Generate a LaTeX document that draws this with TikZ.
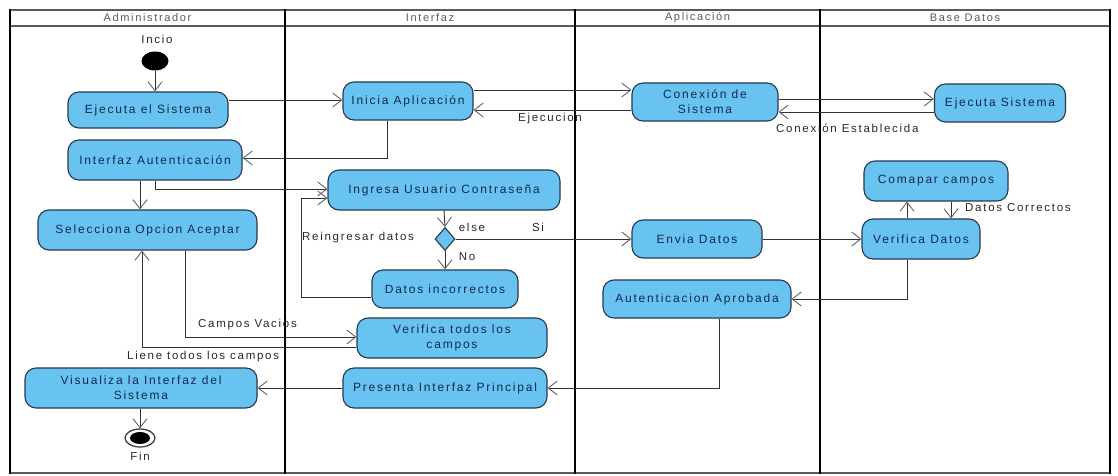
\documentclass[tikz,border=0pt]{standalone}
\usepackage{fontspec}
\setmainfont{Liberation Sans}[LetterSpace=15]
\usetikzlibrary{arrows.meta,shapes.geometric}

\definecolor{actfill}{RGB}{104,195,240}
\definecolor{actdraw}{RGB}{38,56,80}
\definecolor{acttext}{RGB}{18,40,82}
\definecolor{linecol}{RGB}{50,50,50}
\definecolor{tipcol}{RGB}{100,100,100}
\definecolor{lanegray}{RGB}{90,90,90}
\definecolor{labelcol}{RGB}{40,40,40}

\tikzset{
  act/.style={draw=actdraw, line width=1.1pt, fill=actfill, rounded corners=11pt,
    text=acttext, align=center, inner sep=2pt,
    font=\fontsize{12}{15}\selectfont},
  lanehead/.style={text=lanegray, font=\fontsize{11}{13}\selectfont, inner sep=0pt},
  lbl/.style={text=labelcol, font=\fontsize{11.5}{13}\selectfont, inner sep=0pt},
  flow/.style={draw=linecol, line width=0.9pt,
    -{Straight Barb[length=9pt,width=14pt,line width=0.9pt,color=tipcol]}},
}

\begin{document}
\begin{tikzpicture}[x=1pt,y=-1pt]
\useasboundingbox (0,0) rectangle (1118,476);
\fill[white] (0,0) rectangle (1118,476);

% swimlane frame
\draw[lanegray, line width=1.8pt] (10,10) -- (1110,10);
\draw[lanegray, line width=1.8pt] (10,26) -- (1110,26);
\draw[lanegray, line width=1.5pt] (10,473) -- (1110,473);
\foreach \x in {10,285,575,820} \draw[black, line width=2.6pt] (\x,9) -- (\x,474);
\draw[black, line width=2pt] (1110,9) -- (1110,474);

% lane titles
\node[lanehead] (hAdm) at (147.5,18) {Administrador};
\node[lanehead] (hInt) at (430,18) {Interfaz};
\node[lanehead] (hApl) at (697.5,18) {Aplicación};
\node[lanehead] (hBD)  at (965,18) {Base Datos};

% start and end
\node[lbl] (tIni) at (157,39) {Incio};
\node[ellipse, fill=black, minimum width=27pt, minimum height=19pt, inner sep=0pt] (init) at (155,61) {};
\node[ellipse, draw=linecol, line width=1.2pt, fill=white, minimum width=30pt, minimum height=18pt, inner sep=0pt] (fin) at (140,438) {};
\node[ellipse, fill=black, minimum width=20pt, minimum height=12pt, inner sep=0pt] (finDot) at (fin) {};
\node[lbl] (tFin) at (140,456) {Fin};

% Administrador
\node[act, minimum width=160pt, minimum height=36pt] (ejec)  at (148,110) {Ejecuta el Sistema};
\node[act, minimum width=174pt, minimum height=40pt] (iauth) at (155,160) {Interfaz Autenticación};
\node[act, minimum width=219pt, minimum height=40pt] (selec) at (147.5,230) {Selecciona Opcion Aceptar};
\node[act, minimum width=232pt, minimum height=40pt] (visu)  at (141,388) {Visualiza la Interfaz del\\Sistema};

% Interfaz
\node[act, minimum width=130pt, minimum height=38pt] (inicia)   at (408,101) {Inicia Aplicación};
\node[act, minimum width=232pt, minimum height=40pt] (ingresa)  at (444,190) {Ingresa Usuario Contraseña};
\node[diamond, draw=actdraw, line width=1.1pt, fill=actfill, minimum width=20pt, minimum height=23pt, inner sep=0pt] (dec) at (445,239) {};
\node[act, minimum width=146pt, minimum height=38pt] (datinc)   at (445,289) {Datos incorrectos};
\node[act, minimum width=190pt, minimum height=40pt] (verif)    at (452,338) {Verifica todos los\\campos};
\node[act, minimum width=204pt, minimum height=40pt] (presenta) at (445,388) {Presenta Interfaz Principal};

% Aplicacion
\node[act, minimum width=146pt, minimum height=38pt] (conex) at (705,102) {Conexión de\\Sistema};
\node[act, minimum width=130pt, minimum height=38pt] (envia) at (697,239) {Envia Datos};
\node[act, minimum width=188pt, minimum height=38pt] (autap) at (697,299) {Autenticacion Aprobada};

% Base Datos
\node[act, minimum width=131pt, minimum height=38pt] (ejsis) at (1000,103) {Ejecuta Sistema};
\node[act, minimum width=144pt, minimum height=40pt] (comp)  at (936,181) {Comapar campos};
\node[act, minimum width=118pt, minimum height=40pt] (verd)  at (921,239) {Verifica Datos};

% control flows
\draw[flow] (init.south) -- (init.south |- ejec.north);
\draw[flow] (ejec.east |- 0,100) -- (inicia.west |- 0,100);
\draw[flow] (inicia.east |- 0,90) -- (conex.west |- 0,90);
\draw[flow] (conex.west |- 0,110) -- (inicia.east |- 0,110);
\draw[flow] (conex.east |- 0,99) -- (ejsis.west |- 0,99);
\draw[flow] (ejsis.west |- 0,112) -- (conex.east |- 0,112);
\draw[flow] (inicia.south -| 387,0) |- (iauth.east |- 0,158);
\draw[flow] (iauth.south -| 140,0) -- (selec.north -| 140,0);
\draw[flow] (iauth.south -| 155,0) |- (ingresa.west |- 0,189);
\draw[flow] (ingresa.south) -- (dec.north);
\draw[flow] (dec.east) -- (envia.west);
\draw[flow] (dec.south) -- (datinc.north);
\coordinate (loopLow) at (301,297);
\coordinate (loopTop) at (301,198);
\draw[flow] (datinc.west |- loopLow) -- (loopLow) -- (loopTop) -- (ingresa.west |- loopTop);
\draw[flow] (envia.east) -- (verd.west);
\draw[flow] (verd.north -| 907,0) -- (comp.south -| 907,0);
\draw[flow] (comp.south -| 951,0) -- (verd.north -| 951,0);
\draw[flow] (verd.south -| 907,0) |- (autap.east);
\draw[flow] (autap.south -| 719,0) |- (presenta.east);
\draw[flow] (presenta.west) -- (visu.east);
\draw[flow] (visu.south -| 140,0) -- (fin.north);
\draw[flow] (selec.south -| 185,0) |- (verif.west |- 0,337);
\draw[flow] (verif.west |- 0,347) -| (selec.south -| 142,0);

% guard and flow labels
\node[lbl, anchor=west] (lEjecu) at (518,119) {Ejecucion};
\node[lbl, anchor=west] (lConEs) at (776,128) {Conexión Establecida};
\node[lbl, anchor=west] (lDatCo) at (965,208) {Datos Correctos};
\node[lbl, anchor=west] (lReing) at (302,238) {Reingresar datos};
\node[lbl] (lElse) at (472,227) {else};
\node[lbl] (lSi)   at (538,227) {Si};
\node[lbl] (lNo)   at (467,257) {No};
\node[lbl, anchor=west] (lVac)   at (198,325) {Campos Vacios};
\node[lbl, anchor=west] (lLlene) at (127,357) {Liene todos los campos};
\end{tikzpicture}
\end{document}
